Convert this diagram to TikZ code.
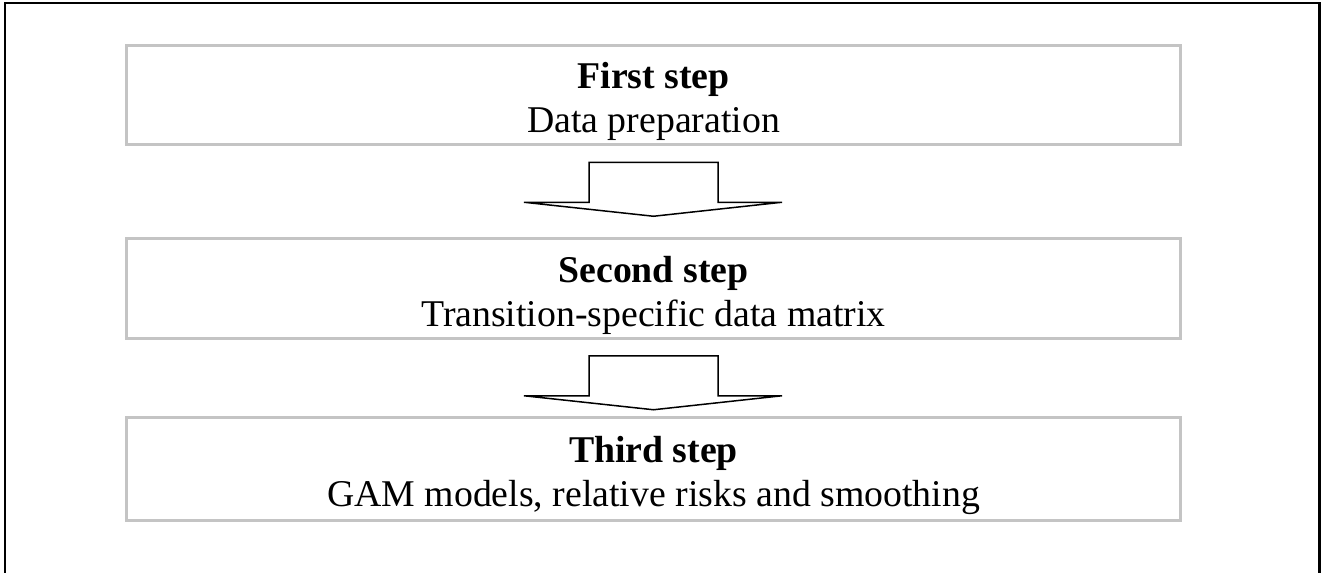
\documentclass[tikz,border=0pt]{standalone}
\usepackage{fontspec}
\setmainfont{Liberation Serif}
\usepackage{xcolor}
\usepackage{tikz}
\usetikzlibrary{positioning,arrows.meta}
\definecolor{boxgray}{RGB}{196,196,196}
\tikzset{
stepbox/.style={draw=boxgray,line width=0.06cm,minimum width=21.08cm,minimum height=1.99cm,inner ysep=0pt,align=center,font=\fontsize{21.5}{24.8}\selectfont},
blockarrow/.style={draw=black,line width=0.03cm,fill=white,line join=miter}
}
\newcommand{\steptitle}[1]{\rule{0pt}{0.79cm}\textbf{#1}}
\newcommand{\stepdown}[1]{\draw[blockarrow,shift={(#1)}](-1.29,-0.32)--(1.29,-0.32)--(1.29,-1.12)--(2.57,-1.12)--(0,-1.40)--(-2.59,-1.12)--(-1.29,-1.12)--cycle;}
\begin{document}
\begin{tikzpicture}
\useasboundingbox(0,0)rectangle(26.44,-11.46);
\draw[line width=0.05cm](0.1,-13)--(0.1,-0.06)--(26.39,-0.06)--(26.39,-13);
\node[stepbox](box1)at(13.07,-1.9){\steptitle{First step}\\Data preparation};
\node[stepbox,below=1.82cm of box1](box2){\steptitle{Second step}\\Transition-specific data matrix};
\node[stepbox,below=1.52cm of box2,minimum height=2.06cm](box3){\steptitle{Third step}\\GAM models, relative risks and smoothing};
\stepdown{box1.south}
\stepdown{box2.south}
\end{tikzpicture}
\end{document}
